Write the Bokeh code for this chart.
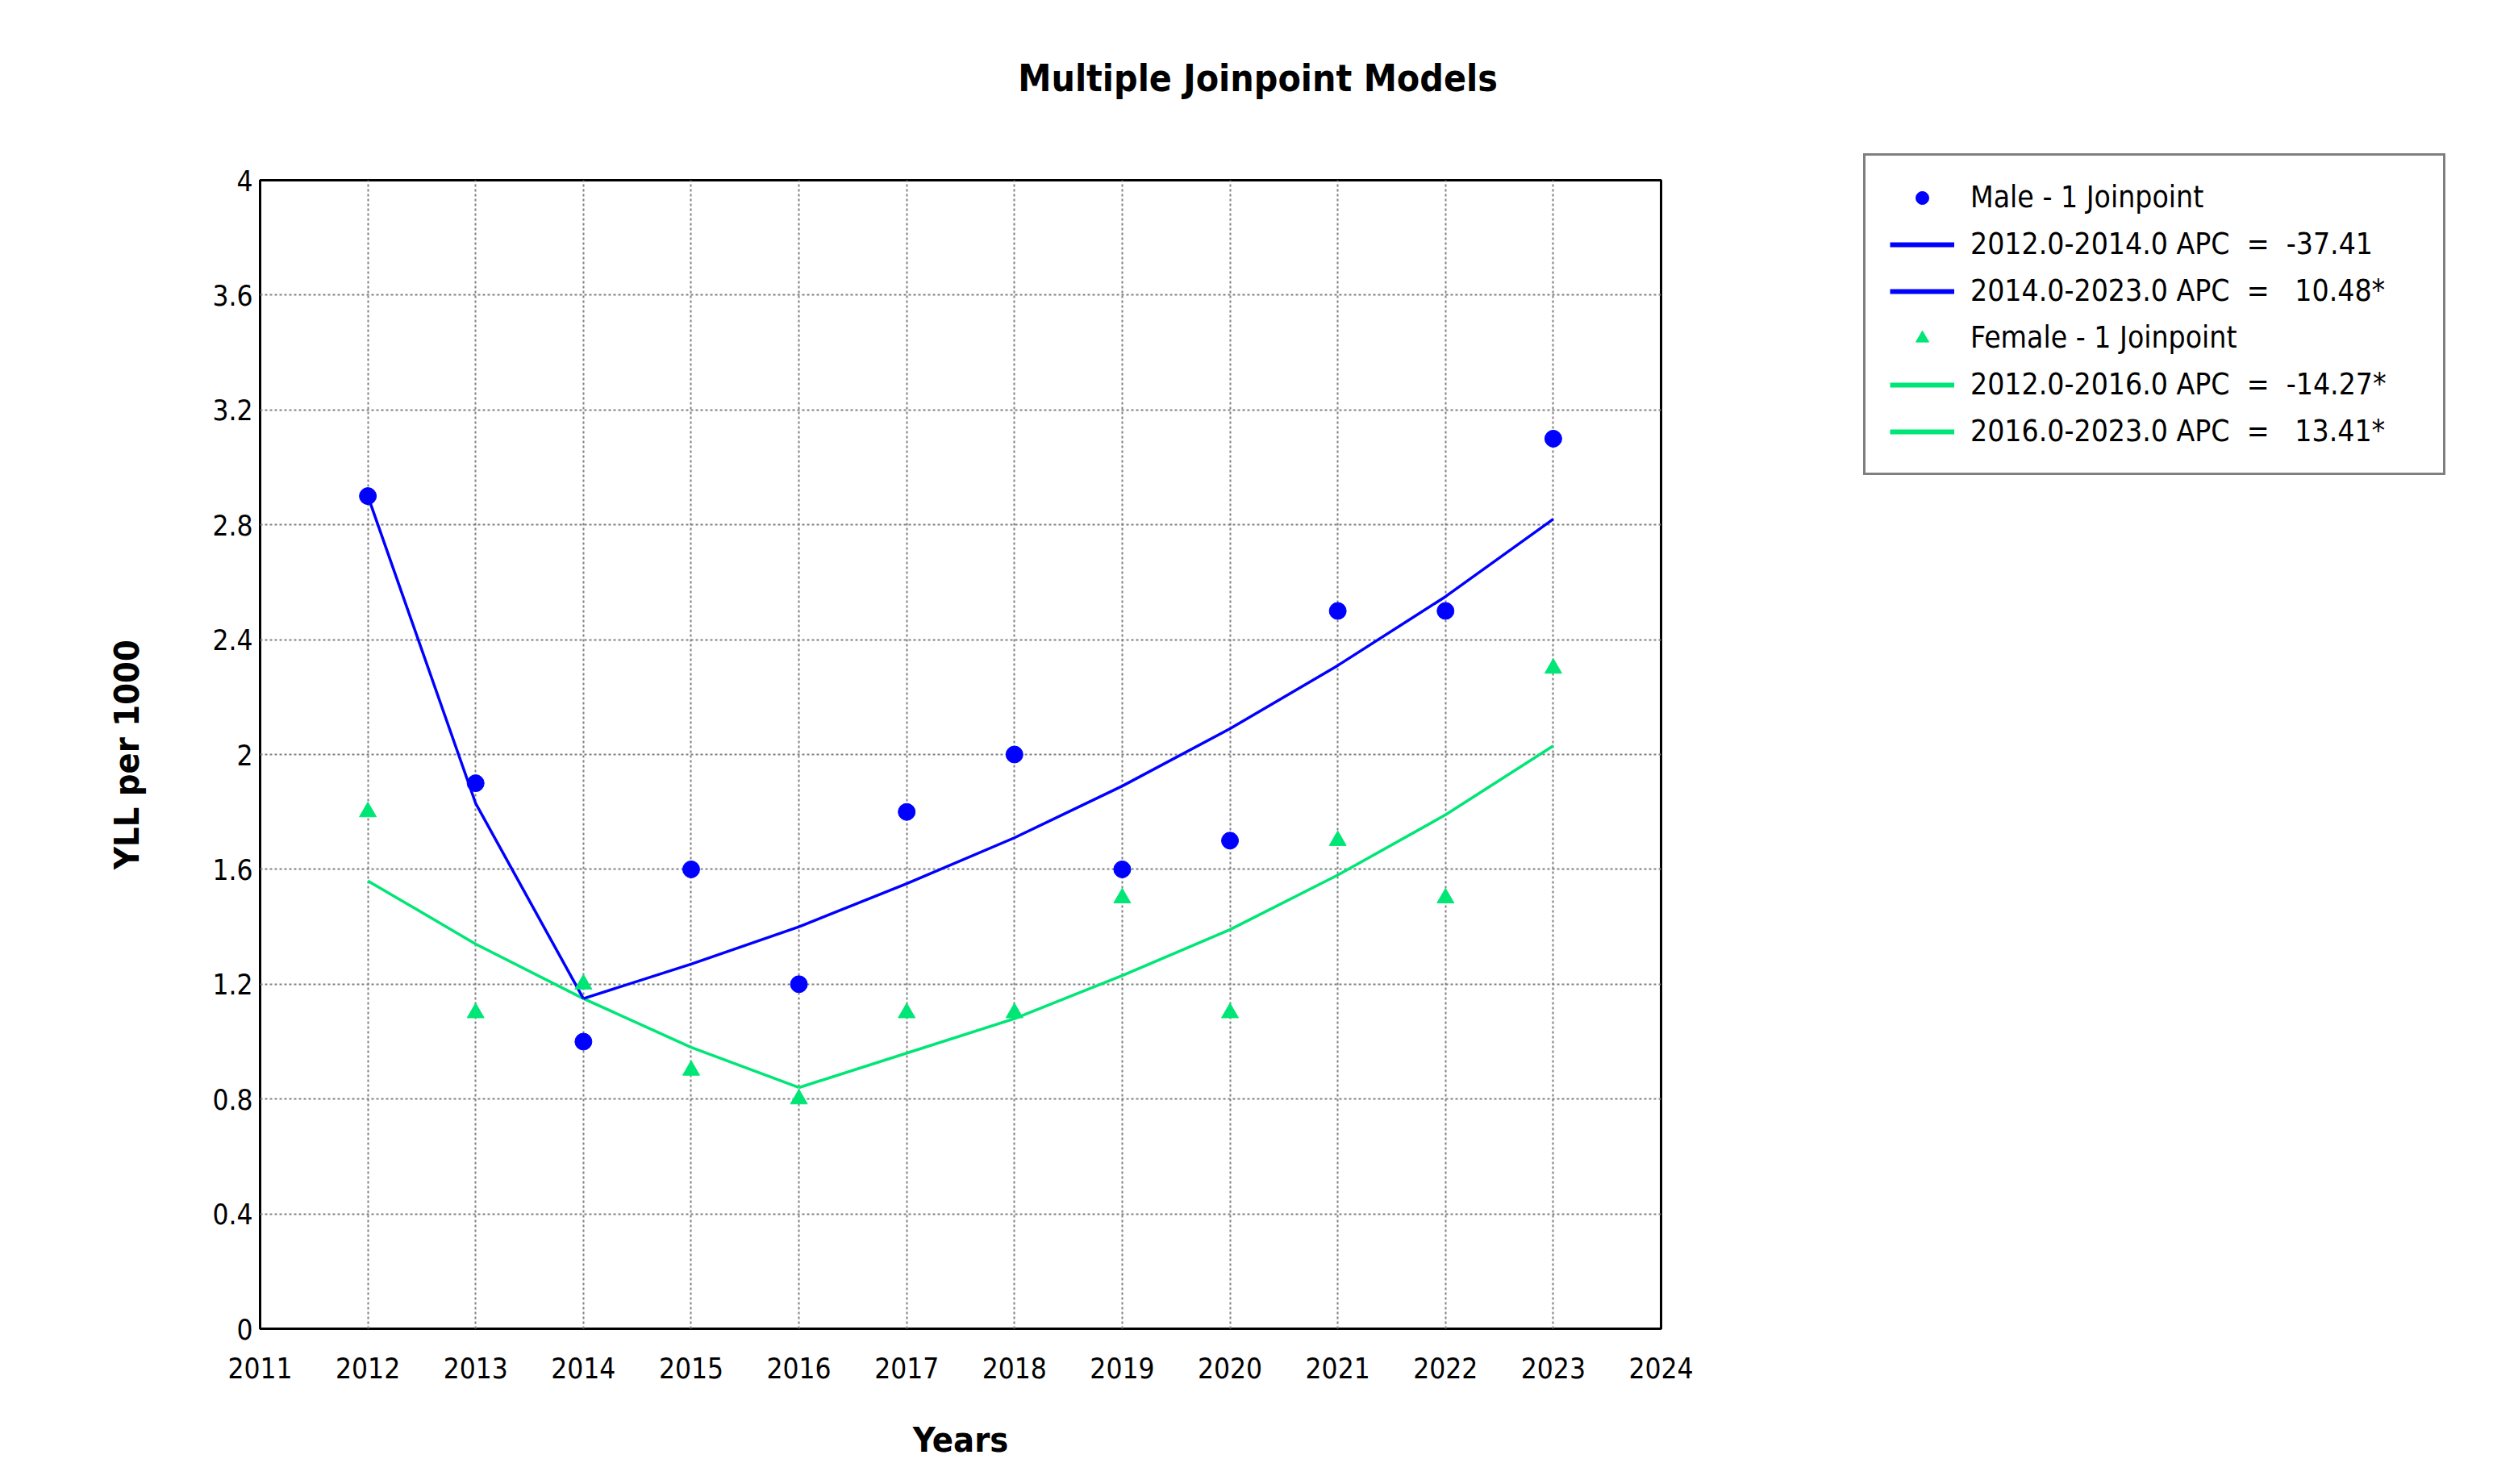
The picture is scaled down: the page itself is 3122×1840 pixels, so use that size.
from bokeh.plotting import figure
from bokeh.layouts import column
from bokeh.models import (ColumnDataSource, Legend, LegendItem, Label, FixedTicker,
                          NumeralTickFormatter, Range1d)
from bokeh.embed import file_html
from bokeh.resources import INLINE

# Observed YLL per 1000 by year
years = [2012, 2013, 2014, 2015, 2016, 2017, 2018, 2019, 2020, 2021, 2022, 2023]
male_obs = [2.9, 1.9, 1.0, 1.6, 1.2, 1.8, 2.0, 1.6, 1.7, 2.5, 2.5, 3.1]
female_obs = [1.8, 1.1, 1.2, 0.9, 0.8, 1.1, 1.1, 1.5, 1.1, 1.7, 1.5, 2.3]

# Fitted joinpoint model values
male_fit = [2.90, 1.83, 1.15, 1.27, 1.40, 1.55, 1.71, 1.89, 2.09, 2.31, 2.55, 2.82]
female_fit = [1.56, 1.34, 1.15, 0.98, 0.84, 0.96, 1.08, 1.23, 1.39, 1.58, 1.79, 2.03]
male_joinpoint = 2014
female_joinpoint = 2016

title_text = "Multiple Joinpoint Models"
legend_labels = [
    "Male - 1 Joinpoint",
    "2012.0-2014.0 APC  =  -37.41",
    "2014.0-2023.0 APC  =   10.48*",
    "Female - 1 Joinpoint",
    "2012.0-2016.0 APC  =  -14.27*",
    "2016.0-2023.0 APC  =   13.41*",
]

x_ticks = [2011, 2012, 2013, 2014, 2015, 2016, 2017, 2018, 2019, 2020, 2021, 2022, 2023, 2024]
y_ticks = [0, 0.4, 0.8, 1.2, 1.6, 2, 2.4, 2.8, 3.2, 3.6, 4]

MALE = "#0000FF"
FEMALE = "#00E676"
FONT = "'DejaVu Sans Condensed', 'Liberation Sans Narrow', 'Liberation Sans', sans-serif"

FRAME_W, FRAME_H = 1737, 1424
BORDER_L, BORDER_R = 322, 1063


def segment(fit, start, end):
    xs = [y for y in years if start <= y <= end]
    ys = [fit[years.index(y)] for y in xs]
    return ColumnDataSource(dict(x=xs, y=ys))


# --- header strip carrying the chart title (frame aligned with the chart below) ---
header = figure(frame_width=FRAME_W, frame_height=150,
                min_border_left=BORDER_L, min_border_right=BORDER_R,
                min_border_top=0, min_border_bottom=0,
                x_range=Range1d(0, 1), y_range=Range1d(0, 1),
                x_axis_type=None, y_axis_type=None,
                output_backend="svg", toolbar_location=None,
                background_fill_color="white", border_fill_color="white")
header.outline_line_color = None
header.add_layout(Label(x=1237, y=54, x_units="screen", y_units="screen",
                        text=title_text, text_align="center", text_baseline="middle",
                        text_font=FONT, text_font_size="46px", text_font_style="bold",
                        text_color="black"))

# --- main chart ---
p = figure(frame_width=FRAME_W, frame_height=FRAME_H,
           min_border_left=BORDER_L, min_border_right=BORDER_R,
           min_border_top=73, min_border_bottom=193,
           x_range=Range1d(2011, 2024), y_range=Range1d(0, 4),
           output_backend="svg", toolbar_location=None,
           background_fill_color="white", border_fill_color="white")

p.outline_line_color = "black"
p.outline_line_width = 3

p.xaxis.ticker = FixedTicker(ticks=x_ticks, minor_ticks=[])
p.yaxis.ticker = FixedTicker(ticks=y_ticks, minor_ticks=[])
p.yaxis.formatter = NumeralTickFormatter(format="0.[0]")
for ax in (p.xaxis, p.yaxis):
    ax.axis_line_color = None
    ax.major_tick_line_color = None
    ax.minor_tick_line_color = None
    ax.major_tick_out = 0
    ax.major_tick_in = 0
    ax.major_label_text_font = FONT
    ax.major_label_text_font_size = "35px"
    ax.major_label_text_color = "black"
    ax.axis_label_text_font = FONT
    ax.axis_label_text_font_size = "43px"
    ax.axis_label_text_font_style = "bold"
    ax.axis_label_text_color = "black"

p.xaxis.axis_label = "Years"
p.yaxis.axis_label = "YLL per 1000"
p.xaxis.major_label_standoff = 35
p.xaxis.axis_label_standoff = 48
p.yaxis.major_label_standoff = 9
p.yaxis.axis_label_standoff = 78

for g in (p.xgrid, p.ygrid):
    g.grid_line_color = "#808080"
    g.grid_line_dash = "3 3"
    g.grid_line_width = 2

male_src = ColumnDataSource(dict(x=years, y=male_obs))
female_src = ColumnDataSource(dict(x=years, y=female_obs))
m1 = segment(male_fit, years[0], male_joinpoint)
m2 = segment(male_fit, male_joinpoint, years[-1])
f1 = segment(female_fit, years[0], female_joinpoint)
f2 = segment(female_fit, female_joinpoint, years[-1])

p.line("x", "y", source=f1, line_color=FEMALE, line_width=3.5)
p.line("x", "y", source=f2, line_color=FEMALE, line_width=3.5)
p.line("x", "y", source=m1, line_color=MALE, line_width=3.5)
p.line("x", "y", source=m2, line_color=MALE, line_width=3.5)

female_pts = p.scatter("x", "y", source=female_src, marker="triangle", size=21,
                       fill_color=FEMALE, line_color=FEMALE)
male_pts = p.scatter("x", "y", source=male_src, marker="circle", size=21,
                     fill_color=MALE, line_color=MALE)

# heavier strokes used for the legend swatches only
leg_m1 = p.line("x", "y", source=m1, line_color=MALE, line_width=6, visible=False)
leg_m2 = p.line("x", "y", source=m2, line_color=MALE, line_width=6, visible=False)
leg_f1 = p.line("x", "y", source=f1, line_color=FEMALE, line_width=6, visible=False)
leg_f2 = p.line("x", "y", source=f2, line_color=FEMALE, line_width=6, visible=False)

legend = Legend(
    items=[
        LegendItem(label=legend_labels[0], renderers=[male_pts]),
        LegendItem(label=legend_labels[1], renderers=[leg_m1]),
        LegendItem(label=legend_labels[2], renderers=[leg_m2]),
        LegendItem(label=legend_labels[3], renderers=[female_pts]),
        LegendItem(label=legend_labels[4], renderers=[leg_f1]),
        LegendItem(label=legend_labels[5], renderers=[leg_f2]),
    ],
    location=(251, 1058),
    border_line_color="black", border_line_width=3,
    background_fill_color="white", background_fill_alpha=1.0,
    padding=30, spacing=15, margin=0,
    glyph_width=80, glyph_height=40, label_height=40, label_width=556,
    label_standoff=20,
    label_text_font=FONT, label_text_font_size="37px", label_text_color="black",
)
p.add_layout(legend, "right")

layout = column(header, p, spacing=0)

open("out.html", "w").write(file_html(layout, INLINE))
